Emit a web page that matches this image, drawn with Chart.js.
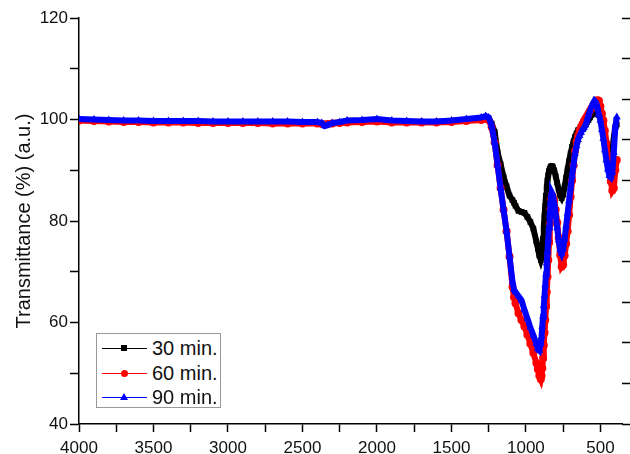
<!DOCTYPE html>
<html>
<head>
<meta charset="utf-8">
<script src="https://cdn.jsdelivr.net/npm/chart.js@4"></script>
<style>
    body { margin: 0; background: #fff; }
    #wrap { position: relative; width: 630px; height: 454px; }
    #legend {
        position: absolute; left: 96px; top: 333px; width: 123px; height: 73px;
        border: 1px solid #999; background: #fff;
        font-family: "Liberation Sans", Arial, sans-serif; font-size: 20px; color: #111;
    }
    .row { position: absolute; left: 0; height: 24px; width: 123px; }
    .row .ln { position: absolute; left: 5px; top: 12px; width: 45px; height: 1px; }
    .row .mk { position: absolute; }
    .row .tx { position: absolute; left: 55px; top: 0; line-height: 24px; }
</style>
</head>
<body>
<div id="wrap">
    <canvas id="chart-ctx" width="630" height="454"></canvas>
    <div id="legend"></div>
</div>
<script>
// wavenumber (cm-1)
const wavenumber = [
    4000, 3900, 3800, 3700, 3600, 3500, 3400, 3300, 3200, 3100,
    3000, 2900, 2800, 2700, 2600, 2500, 2400, 2370, 2350, 2330,
    2300, 2250, 2200, 2100, 2000, 1900, 1800, 1700, 1600, 1500,
    1400, 1300, 1270, 1250, 1230, 1210, 1190, 1170, 1150, 1130,
    1110, 1090, 1080, 1070, 1050, 1030, 1010, 990, 970, 950,
    930, 920, 910, 900, 895, 890, 885, 880, 875, 870,
    865, 860, 855, 850, 845, 840, 835, 830, 825, 820,
    810, 800, 790, 780, 770, 760, 750, 740, 730, 720,
    710, 700, 690, 680, 670, 660, 650, 640, 630, 620,
    610, 600, 590, 580, 570, 560, 550, 540, 530, 520,
    510, 500, 490, 480, 470, 460, 450, 440, 430, 420,
    410, 400, 390
];

const min30 = [
    99.9, 99.8, 99.7, 99.7, 99.6, 99.6, 99.6, 99.5, 99.5, 99.5,
    99.5, 99.4, 99.4, 99.4, 99.4, 99.4, 99.3, 99.2, 99.0, 99.1,
    99.3, 99.4, 99.6, 99.7, 99.9, 99.6, 99.5, 99.5, 99.5, 99.7,
    99.9, 100.2, 100.5, 100.2, 99.2, 97.6, 93.5, 91.2, 88.7, 86.8,
    85.0, 84.1, 83.6, 83.0, 82.0, 81.8, 81.6, 80.8, 79.8, 78.5,
    76.0, 74.6, 73.2, 72.3, 72.8, 74.5, 76.5, 78.8, 81.0, 83.0,
    85.0, 86.7, 88.0, 89.0, 89.8, 90.3, 90.6, 90.8, 90.8, 90.7,
    90.0, 88.8, 87.5, 86.2, 85.0, 84.5, 85.2, 86.8, 88.5, 90.2,
    91.8, 93.3, 94.6, 95.7, 96.6, 97.3, 97.9, 98.0, 98.0, 98.1,
    98.4, 99.0, 99.5, 99.9, 100.4, 100.9, 101.3, 101.4, 101.2, 101.0,
    100.9, 100.6, 99.8, 98.6, 97.3, 95.0, 92.6, 93.2, 93.8, 94.0,
    96.5, 98.5, 99.0
];

const min60 = [
    99.8, 99.7, 99.6, 99.5, 99.5, 99.4, 99.4, 99.4, 99.3, 99.3,
    99.3, 99.3, 99.3, 99.2, 99.2, 99.2, 99.2, 99.1, 99.0, 99.1,
    99.2, 99.3, 99.4, 99.5, 99.6, 99.4, 99.4, 99.4, 99.4, 99.5,
    99.7, 99.9, 100.1, 99.9, 98.5, 95.5, 91.0, 86.5, 82.2, 78.0,
    73.0, 67.0, 65.0, 63.8, 61.8, 60.5, 59.2, 57.6, 55.8, 54.0,
    52.0, 50.8, 49.5, 48.8, 49.5, 51.0, 53.0, 55.5, 58.0, 60.5,
    63.2, 66.0, 69.0, 72.3, 75.8, 79.3, 82.3, 84.3, 85.0, 84.8,
    84.0, 82.2, 79.7, 76.7, 73.3, 71.0, 71.4, 73.2, 75.5, 78.0,
    81.2, 84.8, 88.0, 91.0, 93.8, 95.6, 96.8, 97.8, 98.5, 99.1,
    99.7, 100.2, 100.7, 101.2, 101.7, 102.2, 102.7, 103.1, 103.5, 103.8,
    103.7, 102.6, 101.2, 99.8, 97.8, 95.3, 92.8, 90.2, 87.8, 86.0,
    86.5, 90.0, 92.0
];

const min90 = [
    100.1, 100.0, 99.9, 99.8, 99.8, 99.7, 99.7, 99.7, 99.7, 99.6,
    99.6, 99.6, 99.6, 99.6, 99.6, 99.5, 99.5, 99.3, 98.7, 98.9,
    99.3, 99.5, 99.8, 99.9, 100.1, 99.8, 99.7, 99.6, 99.6, 99.8,
    100.1, 100.4, 100.7, 100.4, 98.8, 95.5, 91.0, 86.5, 82.2, 78.0,
    73.0, 68.0, 66.5, 66.0, 65.2, 64.4, 62.5, 60.8, 59.0, 57.5,
    55.8, 54.8, 54.5, 55.8, 57.2, 59.2, 61.2, 63.3, 65.3, 67.4,
    69.5, 71.7, 74.0, 76.3, 78.7, 81.2, 83.6, 85.0, 85.5, 85.2,
    83.5, 81.2, 78.6, 76.2, 74.3, 73.6, 74.5, 76.5, 79.0, 81.5,
    84.0, 86.5, 89.0, 91.2, 93.3, 94.8, 96.0, 96.8, 97.4, 98.0,
    98.4, 98.9, 99.8, 100.8, 101.7, 102.5, 103.2, 103.7, 103.4, 102.4,
    101.0, 99.8, 98.0, 96.2, 94.0, 92.0, 90.2, 88.9, 88.6, 89.5,
    93.5, 98.5, 100.5
];

const seriesNames = ["30 min.", "60 min.", "90 min."];
const seriesColors = ["#000000", "#ff0000", "#0000ff"];
const seriesMarkers = ["rect", "circle", "triangle"];
const seriesValues = [min30, min60, min90];

const FONT = "'Liberation Sans', Arial, sans-serif";

const dataSetList = seriesValues.map((values, i) => {
    return {
        label: seriesNames[i],
        data: wavenumber.map((w, k) => ({ x: w, y: values[k] })),
        borderColor: seriesColors[i],
        backgroundColor: seriesColors[i],
        borderWidth: 6,
        pointStyle: seriesMarkers[i],
        pointRadius: i === 2 ? 4.5 : 4,
        pointBorderWidth: 0,
        tension: 0,
        order: 3 - i,
    }
});

// legend box (inside the plot, bottom left)
const legendEl = document.getElementById("legend");
seriesNames.forEach((name, i) => {
    const row = document.createElement("div");
    row.className = "row";
    row.style.top = (2 + i * 24.5) + "px";
    let mk;
    if (seriesMarkers[i] === "rect") {
        mk = `<span class="mk" style="left:24px;top:9px;width:6px;height:6px;background:${seriesColors[i]}"></span>`;
    } else if (seriesMarkers[i] === "circle") {
        mk = `<span class="mk" style="left:24px;top:9px;width:7px;height:7px;border-radius:50%;background:${seriesColors[i]}"></span>`;
    } else {
        mk = `<span class="mk" style="left:23px;top:8px;width:0;height:0;border-left:4px solid transparent;border-right:4px solid transparent;border-bottom:7px solid ${seriesColors[i]}"></span>`;
    }
    row.innerHTML = `<span class="ln" style="background:${seriesColors[i]}"></span>${mk}<span class="tx">${name}</span>`;
    legendEl.appendChild(row);
});

const ctx = document.getElementById("chart-ctx");

new Chart(ctx, {
    type: "line",
    data: { datasets: dataSetList },
    options: {
        responsive: false,
        animation: false,
        devicePixelRatio: 1,
        layout: { padding: { top: 18, right: 0, bottom: 0, left: 0 } },
        plugins: {
            legend: { display: false },
            tooltip: { enabled: false },
        },
        scales: {
            x: {
                type: "linear",
                reverse: true,
                min: 355,
                max: 4000,
                afterFit: (scale) => { scale.height = 30; },
                border: { color: "#000", width: 1.5 },
                grid: { drawOnChartArea: false, tickLength: 8, tickColor: "#000", tickWidth: 1.5 },
                ticks: {
                    stepSize: 250,
                    includeBounds: false,
                    autoSkip: false,
                    maxRotation: 0,
                    padding: 6,
                    color: "#111",
                    font: { family: FONT, size: 17 },
                    callback: (v) => (v % 500 === 0 ? v : ""),
                },
            },
            y: {
                min: 40,
                max: 120,
                afterFit: (scale) => { scale.width = 79; },
                border: { color: "#000", width: 1.5 },
                grid: { drawOnChartArea: false, tickLength: 9, tickColor: "#000", tickWidth: 1.5 },
                ticks: {
                    stepSize: 10,
                    autoSkip: false,
                    padding: 2,
                    color: "#111",
                    font: { family: FONT, size: 17 },
                    callback: (v) => (v % 20 === 0 ? v : ""),
                },
                title: {
                    display: true,
                    text: "Transmittance (%) (a.u.)",
                    color: "#111",
                    font: { family: FONT, size: 20 },
                    padding: { top: 12, bottom: 0 },
                },
            },
            y2: {
                position: "right",
                min: 0,
                max: 10,
                afterFit: (scale) => { scale.width = 8; },
                border: { display: false },
                grid: { drawOnChartArea: false, tickLength: 8, tickColor: "#000", tickWidth: 1.5 },
                ticks: { stepSize: 1, autoSkip: false, callback: () => "" },
            },
        },
    },
})
</script>
</body>
</html>
